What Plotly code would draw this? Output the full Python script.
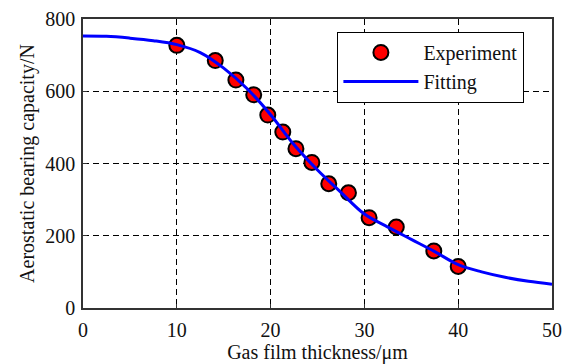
import plotly.graph_objects as go

# Measured bearing capacity vs. gas film thickness
film_thickness = [10.0, 14.1, 16.3, 18.2, 19.7, 21.3, 22.7, 24.4, 26.2, 28.3, 30.5, 33.4, 37.4, 40.0]
capacity = [727, 685, 631, 590, 534, 487, 441, 403, 344, 319, 250, 224, 158, 115]

# Fitted curve, sampled along the thickness range
fit_x = [0, 2.5, 5, 7.5, 10, 12.5, 15, 17.5, 20, 22.5, 25, 27.5, 30, 32.5, 35, 37.5, 40, 42.5, 45, 47.5, 50]
fit_y = [753, 752, 747, 740, 729, 707, 664, 607, 535, 452, 382, 320, 260, 224, 190, 156, 120, 100, 85, 74, 66]

x_ticks = [0, 10, 20, 30, 40, 50]
y_ticks = [0, 200, 400, 600, 800]

font_family = "Liberation Serif, Times New Roman, serif"
text_color = "#111111"
font_size = 20

fig = go.Figure()

fig.add_trace(go.Scatter(
    x=film_thickness, y=capacity, mode="markers", name="Experiment",
    marker=dict(size=15, color="#ff0000", line=dict(color="#000000", width=2)),
))

fig.add_trace(go.Scatter(
    x=fit_x, y=fit_y, mode="lines", name="Fitting",
    line=dict(color="#0000ff", width=3, shape="spline", smoothing=1.0),
))

axis_common = dict(
    showline=True, linecolor="#333333", linewidth=1.5, mirror=True,
    showgrid=True, gridcolor="#000000", gridwidth=1.2, griddash="6px,4px",
    zeroline=False, ticks="inside", ticklen=4, tickcolor="#333333",
    tickfont=dict(family=font_family, size=font_size, color=text_color),
    automargin=False,
)

fig.update_xaxes(
    range=[0, 50], tickvals=x_ticks, ticktext=[str(v) for v in x_ticks],
    ticklabelstandoff=3,
    title=dict(text="Gas film thickness/μm", font=dict(family=font_family, size=font_size, color=text_color), standoff=1),
    **axis_common,
)
fig.update_yaxes(
    range=[0, 800], tickvals=y_ticks, ticktext=[str(v) for v in y_ticks],
    ticklabelstandoff=2,
    title=dict(text="Aerostatic bearing capacity/N", font=dict(family=font_family, size=font_size, color=text_color), standoff=5),
    **axis_common,
)

fig.update_layout(
    width=568, height=364,
    margin=dict(l=83, r=16, t=19, b=56),
    paper_bgcolor="#ffffff", plot_bgcolor="#ffffff",
    font=dict(family=font_family, size=font_size, color=text_color),
    showlegend=True,
    legend=dict(
        x=0.542, y=0.956, xanchor="left", yanchor="top",
        bgcolor="#ffffff", bordercolor="#000000", borderwidth=1.2,
        font=dict(family=font_family, size=font_size, color=text_color),
        itemwidth=75, entrywidth=183, tracegroupgap=0,
    ),
)

fig.write_html("out.html")
